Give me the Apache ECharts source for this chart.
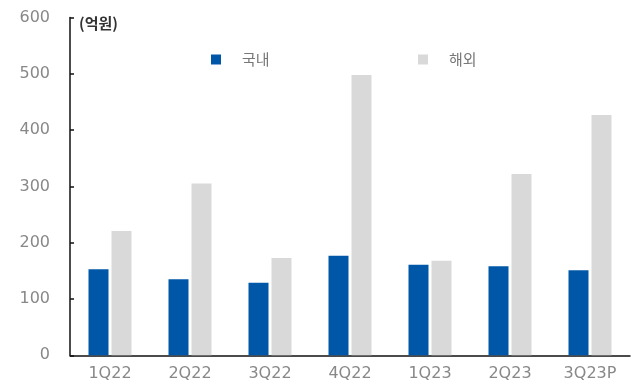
<!DOCTYPE html>
<html>
<head>
<meta charset="utf-8">
<script src="https://cdn.jsdelivr.net/npm/echarts@6/dist/echarts.min.js"></script>
<style>
html, body { margin: 0; padding: 0; background: #fff; }
#chart { width: 634px; height: 387px; }
</style>
</head>
<body>
<div id="chart"></div>
<script>
// 분기별 매출 (억원)
var categories = ['1Q22', '2Q22', '3Q22', '4Q22', '1Q23', '2Q23', '3Q23P'];
var domestic = [153, 135, 129, 177, 161, 158, 151];
var overseas = [221, 305, 173, 498, 168, 322, 427];
var yTicks = [0, 100, 200, 300, 400, 500, 600];

var labelFont = '"DejaVu Sans", sans-serif';
var krFont = '"Noto Sans CJK KR", sans-serif';

var myChart = echarts.init(document.getElementById('chart'));

// 범례 하나씩 따로 배치
var legendItem = function (name, left) {
    return {
        data: [name],
        left: left,
        top: 47,
        itemWidth: 10,
        itemHeight: 10,
        icon: 'rect',
        itemGap: 0,
        textStyle: { color: '#777', fontSize: 15, fontFamily: krFont, padding: [0, 0, 0, 16] }
    };
};

myChart.setOption({
    animation: false,
    grid: { left: 70, right: 4, top: 17.5, bottom: 31.7 },
    legend: [legendItem('국내', 206), legendItem('해외', 413)],
    graphic: [{
        type: 'text',
        left: 79,
        top: 16,
        style: { text: '(억원)', fill: '#333', font: 'bold 15px ' + krFont }
    }],
    xAxis: {
        type: 'category',
        data: categories,
        axisLine: { lineStyle: { color: '#111', width: 1.5 } },
        axisTick: { inside: true, length: 4, lineStyle: { color: '#111', width: 1.5 } },
        axisLabel: { color: '#888', fontSize: 16, fontFamily: labelFont, margin: 11 }
    },
    yAxis: {
        type: 'value',
        min: yTicks[0],
        max: yTicks[yTicks.length - 1],
        interval: 100,
        splitLine: { show: false },
        axisLine: { show: true, lineStyle: { color: '#111', width: 1.5 } },
        axisTick: { show: true, inside: true, length: 4, lineStyle: { color: '#111', width: 1.5 } },
        axisLabel: { color: '#888', fontSize: 16, fontFamily: labelFont, margin: 20 }
    },
    series: [
        {
            name: '국내',
            type: 'bar',
            data: domestic,
            barWidth: 20,
            barGap: '15%',
            itemStyle: { color: '#0057A8' }
        },
        {
            name: '해외',
            type: 'bar',
            data: overseas,
            barWidth: 20,
            itemStyle: { color: '#D9D9D9' }
        }
    ]
});
</script>
</body>
</html>
